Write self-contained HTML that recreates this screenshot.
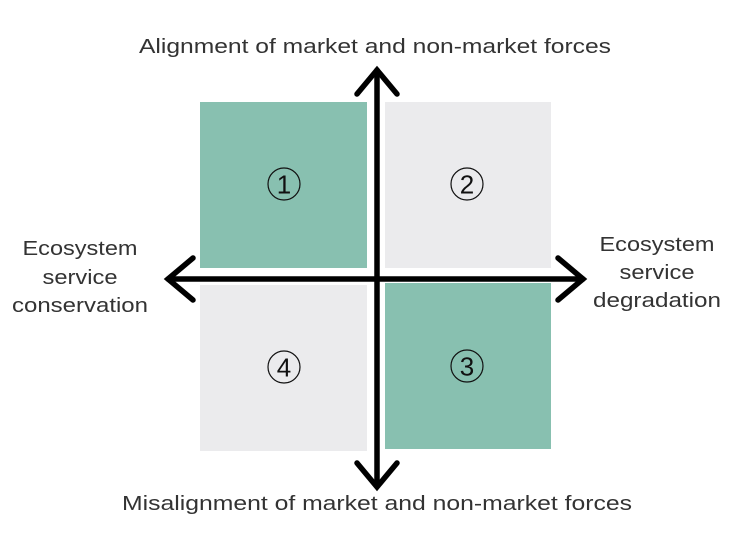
<!DOCTYPE html>
<html><head><style>body{margin:0;background:#fff}</style></head><body>
<svg width="732" height="548" viewBox="0 0 732 548" xmlns="http://www.w3.org/2000/svg" font-family="Liberation Sans, DejaVu Sans, sans-serif" fill="#333">
<rect x="200" y="102" width="167" height="166" fill="#88c0b0"/>
<rect x="385" y="102" width="166" height="166" fill="#ebebed"/>
<rect x="200" y="285" width="167" height="166" fill="#ebebed"/>
<rect x="385" y="283" width="166" height="166" fill="#88c0b0"/>
<g stroke="#000" stroke-width="5.5" fill="none" stroke-linecap="round" stroke-linejoin="miter">
<line x1="377" y1="70" x2="377" y2="486"/>
<line x1="168" y1="279" x2="583" y2="279"/>
<polyline points="357,94 377,70 397,94"/>
<polyline points="357,463 377,487 397,463"/>
<polyline points="193,258 168,279 193,300"/>
<polyline points="558,258 583,279 558,300"/>
</g>
<g font-size="20" text-anchor="middle" stroke="none">
<text x="375" y="53" textLength="472" lengthAdjust="spacingAndGlyphs">Alignment of market and non-market forces</text>
<text x="377" y="510" textLength="510" lengthAdjust="spacingAndGlyphs">Misalignment of market and non-market forces</text>
<text x="80" y="255" textLength="115" lengthAdjust="spacingAndGlyphs">Ecosystem</text>
<text x="80" y="284" textLength="75" lengthAdjust="spacingAndGlyphs">service</text>
<text x="80" y="312" textLength="136" lengthAdjust="spacingAndGlyphs">conservation</text>
<text x="657" y="251" textLength="115" lengthAdjust="spacingAndGlyphs">Ecosystem</text>
<text x="657" y="279" textLength="75" lengthAdjust="spacingAndGlyphs">service</text>
<text x="657" y="307" textLength="128" lengthAdjust="spacingAndGlyphs">degradation</text>
</g>
<g font-size="26" text-anchor="middle" fill="#111">
<circle cx="284" cy="184" r="16" fill="none" stroke="#111" stroke-width="1.2"/>
<text x="284" y="193.5">1</text>
<circle cx="467" cy="184" r="16" fill="none" stroke="#111" stroke-width="1.2"/>
<text x="467" y="193.5">2</text>
<circle cx="284" cy="367" r="16" fill="none" stroke="#111" stroke-width="1.2"/>
<text x="284" y="376.5">4</text>
<circle cx="467" cy="366" r="16" fill="none" stroke="#111" stroke-width="1.2"/>
<text x="467" y="375.5">3</text>
</g>
</svg>
</body></html>
